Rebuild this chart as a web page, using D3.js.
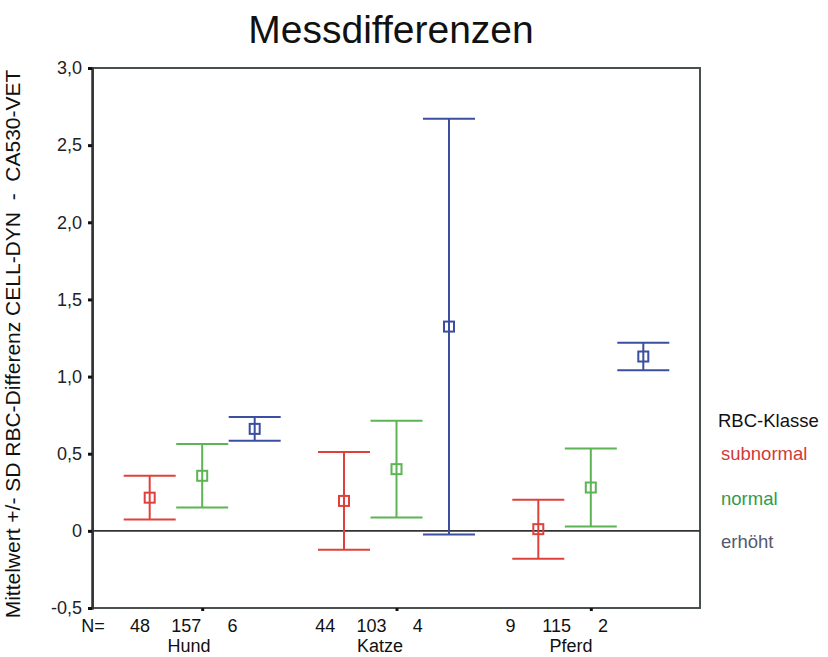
<!DOCTYPE html>
<html>
<head>
<meta charset="utf-8">
<script src="https://cdn.jsdelivr.net/npm/d3@7"></script>
<style>
  body { margin: 0; background: #fff; }
  svg { display: block; font-family: "Liberation Sans", Arial, sans-serif; }
</style>
</head>
<body>
<div id="chart"></div>
<script>
const kWidth = 828;
const kHeight = 657;
const kLeft = 93;
const kRight = 700;
const kTop = 68;
const kBottom = 608;

const categories = ["Hund", "Katze", "Pferd"];
const classes = ["subnormal", "normal", "erhöht"];

// mean and SD per class, one entry per category
const subnormalMean = [0.215, 0.194, 0.011];
const subnormalSd = [0.142, 0.317, 0.191];
const normalMean = [0.357, 0.400, 0.281];
const normalSd = [0.206, 0.313, 0.252];
const erhoehtMean = [0.661, 1.324, 1.130];
const erhoehtSd = [0.077, 1.347, 0.089];

const subnormalN = [48, 44, 9];
const normalN = [157, 103, 115];
const erhoehtN = [6, 4, 2];

const yTicks = [-0.5, 0, 0.5, 1.0, 1.5, 2.0, 2.5, 3.0];

const classColors = ["#e0403c", "#5cb455", "#3c4ea0"];
const legendColors = ["#d23a36", "#2e9a50", "#525a70"];

const means = [subnormalMean, normalMean, erhoehtMean];
const sds = [subnormalSd, normalSd, erhoehtSd];
const counts = [subnormalN, normalN, erhoehtN];

const rows = [];
categories.forEach((cat, ci) => {
  classes.forEach((cls, k) => {
    rows.push({cat: cat, cls: cls, k: k, mean: means[k][ci], sd: sds[k][ci], n: counts[k][ci], slot: ci * 4 + k});
  });
});

const svg = d3.select("#chart")
  .append("svg")
  .attr("width", kWidth)
  .attr("height", kHeight);

const xGroup = d3.scalePoint()
  .domain(categories)
  .range([kLeft, kRight])
  .padding(0.562);

const xSub = d3.scalePoint()
  .domain(classes)
  .range([-52.5, 52.5]);

const yScale = d3.scaleLinear()
  .domain([-0.5, 3.0])
  .range([kBottom, kTop]);

// N labels and category labels sit on their own slightly compressed scales
const nScale = d3.scaleLinear().domain([0, 10]).range([140, 603]);
const catLabelScale = d3.scaleLinear().domain([0, 2]).range([189, 571]);

// title
svg.append("text")
  .attr("x", 391)
  .attr("y", 43)
  .attr("text-anchor", "middle")
  .style("font-size", "39px")
  .attr("fill", "#111")
  .text("Messdifferenzen");

// y axis label
svg.append("text")
  .attr("transform", `translate(20, 344) rotate(-90)`)
  .attr("text-anchor", "middle")
  .style("font-size", "21px")
  .style("white-space", "pre")
  .attr("fill", "#111")
  .text("Mittelwert +/- SD RBC-Differenz CELL-DYN  -  CA530-VET");

// frame
svg.append("path")
  .attr("d", `M${kLeft},${kTop}H${kRight}V${kBottom}H${kLeft}Z`)
  .attr("fill", "none")
  .attr("stroke", "#4a4f4f")
  .attr("stroke-width", 2);

// y axis
const yAxis = d3.axisLeft(yScale)
  .tickValues(yTicks)
  .tickSize(4)
  .tickPadding(6)
  .tickFormat(d => d === 0 ? "0" : d.toFixed(1).replace(".", ","));

const gy = svg.append("g")
  .attr("transform", `translate(${kLeft - 1}, 0)`)
  .call(yAxis);
gy.select(".domain").attr("stroke", "#333").attr("stroke-width", 2.5);
gy.selectAll(".tick line").attr("stroke", "#111").attr("stroke-width", 3);
gy.selectAll(".tick text")
  .style("font-size", "18px")
  .attr("fill", "#222")
  .attr("font-family", null);

// x axis ticks (no labels)
const xAxis = d3.axisBottom(xGroup).tickSize(3).tickFormat("");
const gx = svg.append("g")
  .attr("transform", `translate(0, ${kBottom})`)
  .call(xAxis);
gx.select(".domain").remove();
gx.selectAll(".tick line").attr("stroke", "#111").attr("stroke-width", 3);

// zero reference line
svg.append("line")
  .attr("x1", kLeft)
  .attr("x2", kRight)
  .attr("y1", yScale(0))
  .attr("y2", yScale(0))
  .attr("stroke", "#333")
  .attr("stroke-width", 1.6);

// error bars
const capHalf = 26;
const boxSize = 10;
const bars = svg.selectAll(".bar")
  .data(rows)
  .enter()
  .append("g")
  .attr("class", "bar")
  .attr("stroke", d => classColors[d.k])
  .attr("stroke-width", 2)
  .attr("fill", "none");

bars.append("line")
  .attr("x1", d => xGroup(d.cat) + xSub(d.cls))
  .attr("x2", d => xGroup(d.cat) + xSub(d.cls))
  .attr("y1", d => yScale(d.mean + d.sd))
  .attr("y2", d => yScale(d.mean - d.sd));

bars.append("line")
  .attr("x1", d => xGroup(d.cat) + xSub(d.cls) - capHalf)
  .attr("x2", d => xGroup(d.cat) + xSub(d.cls) + capHalf)
  .attr("y1", d => yScale(d.mean + d.sd))
  .attr("y2", d => yScale(d.mean + d.sd));

bars.append("line")
  .attr("x1", d => xGroup(d.cat) + xSub(d.cls) - capHalf)
  .attr("x2", d => xGroup(d.cat) + xSub(d.cls) + capHalf)
  .attr("y1", d => yScale(d.mean - d.sd))
  .attr("y2", d => yScale(d.mean - d.sd));

bars.append("rect")
  .attr("x", d => xGroup(d.cat) + xSub(d.cls) - boxSize / 2)
  .attr("y", d => yScale(d.mean) - boxSize / 2)
  .attr("width", boxSize)
  .attr("height", boxSize);

// N row
svg.append("text")
  .attr("x", 93)
  .attr("y", 632)
  .attr("text-anchor", "middle")
  .style("font-size", "18px")
  .attr("fill", "#111")
  .text("N=");

svg.selectAll(".nlabel")
  .data(rows)
  .enter()
  .append("text")
  .attr("class", "nlabel")
  .attr("x", d => nScale(d.slot))
  .attr("y", 632)
  .attr("text-anchor", "middle")
  .style("font-size", "18px")
  .attr("fill", "#111")
  .text(d => d.n);

svg.selectAll(".catlabel")
  .data(categories)
  .enter()
  .append("text")
  .attr("class", "catlabel")
  .attr("x", (d, i) => catLabelScale(i))
  .attr("y", 652)
  .attr("text-anchor", "middle")
  .style("font-size", "18px")
  .attr("fill", "#111")
  .text(d => d);

// legend
svg.append("text")
  .attr("x", 718)
  .attr("y", 427)
  .style("font-size", "18.5px")
  .attr("fill", "#111")
  .text("RBC-Klasse");

const legendY = [460, 505, 548];
svg.selectAll(".legend")
  .data(classes)
  .enter()
  .append("text")
  .attr("class", "legend")
  .attr("x", 721)
  .attr("y", (d, i) => legendY[i])
  .style("font-size", "18.5px")
  .attr("fill", (d, i) => legendColors[i])
  .text(d => d);
</script>
</body>
</html>
